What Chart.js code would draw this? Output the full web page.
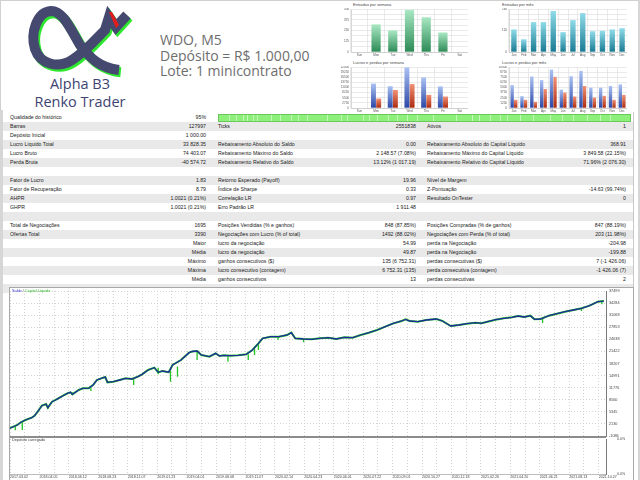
<!DOCTYPE html>
<html><head><meta charset="utf-8">
<script src="https://cdn.jsdelivr.net/npm/chart.js@4.4.1/dist/chart.umd.min.js"></script>
<style>
html,body{margin:0;padding:0;background:#fff;}
body{width:640px;height:480px;position:relative;overflow:hidden;font-family:"Liberation Sans",Arial,sans-serif;}
.abs{position:absolute;}
canvas{position:absolute;}
.row{position:absolute;left:3px;width:630px;height:9px;}
.row.g{background:#e9e9e9;}
.cell{position:absolute;top:0;height:9px;line-height:9px;font-size:5.2px;color:#222;white-space:nowrap;}
.r{text-align:right;}
.ttl{position:absolute;font-size:4px;color:#444;white-space:nowrap;line-height:5px;}
.hdr{position:absolute;left:160px;font-family:"Open Sans",sans-serif;font-size:14px;color:#6e6e6e;white-space:nowrap;line-height:16px;}
.brand{position:absolute;left:10px;width:140px;text-align:center;font-family:"Open Sans",sans-serif;font-size:14.5px;color:#3e4371;line-height:17px;}
</style></head><body>

<!-- page borders -->
<div class="abs" style="left:0;top:0;width:640px;height:1px;background:#d0d0d0"></div>
<div class="abs" style="left:0;top:0;width:1px;height:480px;background:#d0d0d0"></div>
<div class="abs" style="left:0;top:110px;width:3px;height:370px;background:#d6d6d6"></div>
<div class="abs" style="left:638px;top:0;width:2px;height:480px;background:#d6d6d6"></div>
<div class="abs" style="left:633px;top:112px;width:1px;height:175px;background:#c8c8c8"></div>

<!-- logo -->
<svg class="abs" style="left:0;top:0" width="160" height="80" viewBox="0 0 160 80">
 <g fill="none" stroke-linejoin="miter" stroke-linecap="butt" stroke-width="10">
  <path transform="translate(1.8,2.2)" stroke="#2ee82e" d="M119 70 C100 68 90 58 80 45 C70 28 63 11 51 11 C37 12 30 33 35 49 C40 64 58 69 72 60 C85 52 95 40 105 30 L109 17 L116 27 L127 15"/>
  <path stroke="#45496f" d="M119 70 C100 68 90 58 80 45 C70 28 63 11 51 11 C37 12 30 33 35 49 C40 64 58 69 72 60 C85 52 95 40 105 30 L109 17 L116 27 L127 15"/>
 </g>
 <path d="M109 12 L112 12 L119 25 L116 28 Z" fill="#e41c1c"/>
</svg>
<div class="brand" style="top:75px">Alpha B3</div>
<div class="brand" style="top:93px">Renko Trader</div>

<div class="hdr" style="top:32px">WDO, M5</div>
<div class="hdr" style="top:48px">Depósito = R$ 1.000,00</div>
<div class="hdr" style="top:63px">Lote: 1 minicontrato</div>

<!-- small chart titles -->
<div class="ttl" style="left:353px;top:2px">Entradas por semana</div>
<div class="ttl" style="left:502px;top:2px">Entradas por mês</div>
<div class="ttl" style="left:353px;top:60px">Lucros e perdas por semana</div>
<div class="ttl" style="left:502px;top:60px">Lucros e perdas por mês</div>

<canvas id="c1" width="133" height="49" style="left:335px;top:8px"></canvas>
<canvas id="c2" width="134" height="49" style="left:493px;top:8px"></canvas>
<canvas id="c3" width="133" height="47" style="left:335px;top:66px"></canvas>
<canvas id="c4" width="134" height="47" style="left:493px;top:66px"></canvas>

<div id="table"></div>

<!-- main chart frame -->
<div class="abs" style="left:9px;top:287px;width:623px;height:192px;border:1px solid #a8a8a8;border-bottom:none;background:#fff"></div>
<canvas id="main" width="622" height="150" style="left:10px;top:287px"></canvas>
<canvas id="load" width="622" height="43" style="left:10px;top:437px"></canvas>
<div class="abs" style="left:10px;top:435.5px;width:596px;height:2px;background:#8c8c8c"></div>
<div class="ttl" style="left:12px;top:288.5px;font-size:3.8px"><span style="color:#3535c8">Saldo</span> <span style="color:#666">/</span> <span style="color:#2fb52f">Capital Líquido</span></div>
<div class="ttl" style="left:12px;top:438px;font-size:3.8px;color:#444">Depósito carregado</div>

<script>
// ---------- small charts data ----------
const weekDays = ['Sun','Mon','Tue','Wed','Thu','Fri','Sat'];
const months = ['Jan','Feb','Mar','Apr','May','Jun','Jul','Aug','Sep','Oct','Nov','Dec'];
const entriesByWeekday = [0,321,251,490,404,227,0];
const entriesByMonth = [126,71,167,167,229,111,178,217,116,118,126,133];
const profitByWeekday = [0,13100,11700,21800,16400,11600,0];
const lossByWeekday = [0,5100,9700,12850,7050,6150,0];
const profitByMonth = [5600,2880,7680,6800,9360,4480,7760,9040,4960,4960,5360,5760];
const lossByMonth = [2000,2000,1520,4640,7600,3760,2800,5360,2560,2960,2000,3200];

// ---------- table ----------
const tableRows = [
 ['Qualidade do histórico','95%','','','',''],
 ['Barras','127997','Ticks','2551838','Ativos','1'],
 ['Depósito Inicial','1 000.00','','','',''],
 ['Lucro Líquido Total','33 828.35','Rebaixamento Absoluto do Saldo','0.00','Rebaixamento Absoluto do Capital Líquido','368.91'],
 ['Lucro Bruto','74 403.07','Rebaixamento Máximo do Saldo','2 148.57 (7.08%)','Rebaixamento Máximo do Capital Líquido','3 849.58 (22.15%)'],
 ['Perda Bruta','-40 574.72','Rebaixamento Relativo do Saldo','13.12% (1 017.19)','Rebaixamento Relativo do Capital Líquido','71.96% (2 076.30)'],
 ['','','','','',''],
 ['Fator de Lucro','1.83','Retorno Esperado (Payoff)','19.96','Nível de Margem',''],
 ['Fator de Recuperação','8.79','Índice de Sharpe','0.33','Z-Pontuação','-14.63 (99.74%)'],
 ['AHPR','1.0021 (0.21%)','Correlação LR','0.97','Resultado OnTester','0'],
 ['GHPR','1.0021 (0.21%)','Erro Padrão LR','1 911.48','',''],
 ['','','','','',''],
 ['Total de Negociações','1695','Posições Vendidas (% e ganhos)','848 (87.85%)','Posições Compradas (% de ganhos)','847 (88.19%)'],
 ['Ofertas Total','3390','Negociações com Lucro (% of total)','1492 (88.02%)','Negociações com Perda (% of total)','203 (11.98%)'],
 ['','Maior','lucro da negociação','54.99','perda na Negociação','-204.98'],
 ['','Média','lucro da negociação','49.87','perda na Negociação','-199.88'],
 ['','Máximo','ganhos consecutivos ($)','135 (6 752.31)','perdas consecutivas ($)','7 (-1 426.06)'],
 ['','Máxima','lucro consecutivo (contagem)','6 752.31 (135)','perda consecutiva (contagem)','-1 426.06 (7)'],
 ['','Média','ganhos consecutivos','13','perdas consecutivas','2'],
 ['','','','','','']
];
const qualityMarks = [229,236,243,247,253,257,271,280,291,298,307,327,341,347,363,369,377,388,397,407,417,433,456,472,479,490,500,507,520,533,550,562,573,587,600,610];

// ---------- main chart data ----------
const balanceTrade = [0,21,30,44,62,70,79,91,103,108,120,130,138,155,165,173,178,196,208,225,237,248,266,272,278,295,313,330,348,365,377,394,412,423,435,453,464,488,511,520,534,546,569,587,598,610,628,651,674,692,709,721,744,768,791,803,814,838,861,884,908,931,954,978,1001,1024,1048,1071,1094,1118,1129,1141,1164,1188,1217,1234,1258,1281,1304,1328,1345,1363,1386,1409,1433,1450,1468,1485,1497,1514,1538,1561,1584,1608,1631,1654,1678,1695];
const balanceValue = [1000,1842,2500,3172,3793,4300,5390,6986,7430,6454,8051,8500,8938,9825,10300,10534,10002,11155,11599,11650,12486,13816,14437,14600,13195,13373,13816,14260,14082,14703,15324,16477,17098,15856,16211,15900,17808,19138,21089,21400,21533,20469,20025,20912,20202,20380,20300,20380,20646,21799,23573,24904,25347,25347,25791,26411,24904,24726,24637,24904,25081,24726,25170,25081,25791,26411,27121,28008,28895,29516,29959,29516,29339,29782,30048,29516,28185,28452,28806,29072,28900,29339,29871,30226,30492,30846,30580,30935,29959,30048,30935,31467,32000,32443,32887,33596,34661,34828];
const spikeTrade = [15,35,108,178,231,353,423,458,478,534,622,680,698,709,765,838,1520,1631,1689];
const spikeFrom  = [1500,2600,6986,10534,11650,14082,17098,16211,17400,21533,20300,20646,22000,23573,25347,24726,30048,32887,34661];
const spikeTo    = [422,512,6099,9825,10889,12486,15324,13373,14703,19138,18694,19138,20469,21799,24460,23839,29000,32177,33951];
const loadValues = [];
const yTickValues = [-1086,2130,5345,8560,11776,14991,18207,21422,24638,27853,31068,34284,37499];
const dateLabels = ['2017.03.02','2018.04.05','2018.06.12','2018.08.23','2018.11.07','2019.01.23','2019.04.01','2019.08.08','2019.11.07','2020.02.14','2020.04.23','2020.06.01','2020.07.22','2020.09.01','2020.10.27','2020.12.18','2021.02.26','2021.04.20','2021.06.21','2021.08.13','2021.10.27'];
const tradeAxisMax = 1701;
const tradesPerGrid = 42;

// ---------- build table ----------
(function(){
  const t = document.getElementById('table');
  let html = '';
  tableRows.forEach((r,i)=>{
    const top = 112.5 + 9*i;
    html += '<div class="row'+(i%2?' g':'')+'" style="top:'+top+'px">'+
      '<div class="cell" style="left:7px">'+r[0]+'</div>'+
      '<div class="cell r" style="left:97px;width:106px">'+r[1]+'</div>'+
      '<div class="cell" style="left:215px">'+r[2]+'</div>'+
      '<div class="cell r" style="left:317px;width:96px">'+r[3]+'</div>'+
      '<div class="cell" style="left:424px">'+r[4]+'</div>'+
      '<div class="cell r" style="left:527px;width:96px">'+r[5]+'</div></div>';
  });
  html += '<div class="abs" style="left:218px;top:114px;width:411px;height:6px;background:#8df07a;border:1px solid #6cc85a">';
  qualityMarks.forEach(x=>{ html += '<div class="abs" style="left:'+(x-219)+'px;top:0;width:1px;height:6px;background:#c6f9bb"></div>'; });
  html += '</div>';
  t.innerHTML = html;
})();

Chart.defaults.font.family = '"Liberation Sans", Arial, sans-serif';
Chart.defaults.animation = false;

function barGrad(light, dark){
  return (ctx)=>{
    const ch = ctx.chart, a = ch.chartArea;
    if(!a || !ch.scales || !ch.scales.y || ctx.type !== 'data') return dark;
    const y = ch.scales.y.getPixelForValue(ctx.raw);
    if(!isFinite(y) || y >= a.bottom - 0.5) return dark;
    const g = ch.ctx.createLinearGradient(0, y, 0, a.bottom);
    g.addColorStop(0, light); g.addColorStop(1, dark);
    return g;
  };
}

function smallChart(id, labels, datasets, max, step, labelEvery, catPct, barPct){
  new Chart(document.getElementById(id), {
    type:'bar',
    data:{labels, datasets: datasets.map(d=>({data:d.data, backgroundColor:barGrad(d.light,d.dark), borderWidth:0, categoryPercentage:catPct, barPercentage:barPct}))},
    options:{
      responsive:false, maintainAspectRatio:false,
      layout:{padding:{top:1,left:0,right:0,bottom:0}},
      plugins:{legend:{display:false},tooltip:{enabled:false},title:{display:false}},
      scales:{
        x:{grid:{color:'#dcdcdc',lineWidth:0.6,drawTicks:false,offset:true},
           border:{color:'#bdbdbd',width:0.6},
           ticks:{font:{size:3},color:'#555',padding:1,maxRotation:0,autoSkip:false},
           afterFit:s=>{s.height=5;s.paddingLeft=0;s.paddingRight=0;}},
        y:{min:0,max:max,
           grid:{color:'#dcdcdc',lineWidth:0.6,drawTicks:false},
           border:{color:'#bdbdbd',width:0.6},
           ticks:{stepSize:step,autoSkip:false,maxTicksLimit:30,font:{size:3},color:'#555',padding:2,
             callback:(v)=> (Math.round(v/step)%labelEvery===0 ? String(Math.round(v)) : '')},
           afterFit:s=>{s.width=16;s.paddingTop=0;s.paddingBottom=0;}}
      }
    }
  });
}

smallChart('c1', weekDays, [{data:entriesByWeekday, light:'#a9e8c4', dark:'#2c8a55'}], 500, 62.5, 2, 0.55, 1);
smallChart('c2', months, [{data:entriesByMonth, light:'#90dcea', dark:'#187a92'}], 240, 30, 4, 0.55, 1);
smallChart('c3', weekDays, [{data:profitByWeekday, light:'#abc2f3', dark:'#2a46a6'},{data:lossByWeekday, light:'#f29276', dark:'#ac2a0e'}], 22000, 2750, 1, 0.62, 0.95);
smallChart('c4', months, [{data:profitByMonth, light:'#abc2f3', dark:'#2a46a6'},{data:lossByMonth, light:'#f29276', dark:'#ac2a0e'}], 10000, 1250, 1, 0.72, 0.95);

// ---------- main chart ----------
const gridTicks = [];
for(let k=0; k*tradesPerGrid <= tradeAxisMax; k++) gridTicks.push(k*tradesPerGrid);

const balancePts = balanceTrade.map((t,i)=>({x:t, y:balanceValue[i]}));
const spikePts = [];
spikeTrade.forEach((t,i)=>{ spikePts.push({x:t,y:spikeFrom[i]},{x:t,y:spikeTo[i]},{x:t,y:null}); });

const dotted = {color:'#d2d2d2', lineWidth:1, drawTicks:false};

new Chart(document.getElementById('main'), {
  type:'line',
  data:{datasets:[
    {label:'Saldo', data:balancePts, borderColor:'#1f2b9c', borderWidth:1.3, pointRadius:0, tension:0},
    {label:'Capital Líquido', data:spikePts, borderColor:'#22c322', borderWidth:1.3, pointRadius:0, tension:0, spanGaps:false},
    {label:'Capital Líquido', data:balancePts, borderColor:'#22c322', borderWidth:2.0, pointRadius:0, tension:0}
  ]},
  options:{
    responsive:false, maintainAspectRatio:false,
    layout:{padding:{top:4,bottom:1,left:0,right:0}},
    plugins:{legend:{display:false},tooltip:{enabled:false}},
    scales:{
      x:{type:'linear', min:0, max:tradeAxisMax,
         afterBuildTicks:s=>{ s.ticks = gridTicks.map(v=>({value:v})); },
         ticks:{display:false, autoSkip:false},
         grid:dotted, border:{display:false, dash:[1,2]},
         afterFit:s=>{s.height=0;s.paddingLeft=0;s.paddingRight=0;}},
      y:{position:'right', min:yTickValues[0], max:yTickValues[yTickValues.length-1],
         afterBuildTicks:s=>{ s.ticks = yTickValues.map(v=>({value:v})); },
         ticks:{autoSkip:false, font:{size:3.8}, color:'#444', padding:3, callback:v=>String(v)},
         grid:dotted, border:{color:'#7a7a7a', width:1, dash:[1,2]},
         afterFit:s=>{s.width=26;s.paddingTop=0;s.paddingBottom=0;}}
    }
  }
});

new Chart(document.getElementById('load'), {
  type:'line',
  data:{datasets:[{label:'Depósito carregado', data:loadValues, borderColor:'#c03030', borderWidth:1, pointRadius:0}]},
  options:{
    responsive:false, maintainAspectRatio:false,
    layout:{padding:{top:2,bottom:0,left:0,right:0}},
    plugins:{legend:{display:false},tooltip:{enabled:false}},
    scales:{
      x:{type:'linear', min:0, max:tradeAxisMax,
         afterBuildTicks:s=>{ s.ticks = gridTicks.map(v=>({value:v})); },
         ticks:{autoSkip:false, align:'start', maxRotation:0, minRotation:0, font:{size:3.6}, color:'#444', padding:1,
           callback:(v,i)=> (i%2===0 && dateLabels[i/2]) ? dateLabels[i/2] : ''},
         grid:dotted, border:{color:'#bdbdbd', width:1, dash:[1,2]},
         afterFit:s=>{s.height=6;s.paddingLeft=0;s.paddingRight=0;}},
      y:{position:'right', min:0, max:1,
         afterBuildTicks:s=>{ s.ticks = [{value:0},{value:1}]; },
         ticks:{autoSkip:false, font:{size:3.6}, color:'#444', padding:3, callback:()=> '0.0%'},
         grid:{display:false}, border:{color:'#7a7a7a', width:1},
         afterFit:s=>{s.width=26;s.paddingTop=0;s.paddingBottom=0;}}
    }
  }
});
</script>
</body></html>
